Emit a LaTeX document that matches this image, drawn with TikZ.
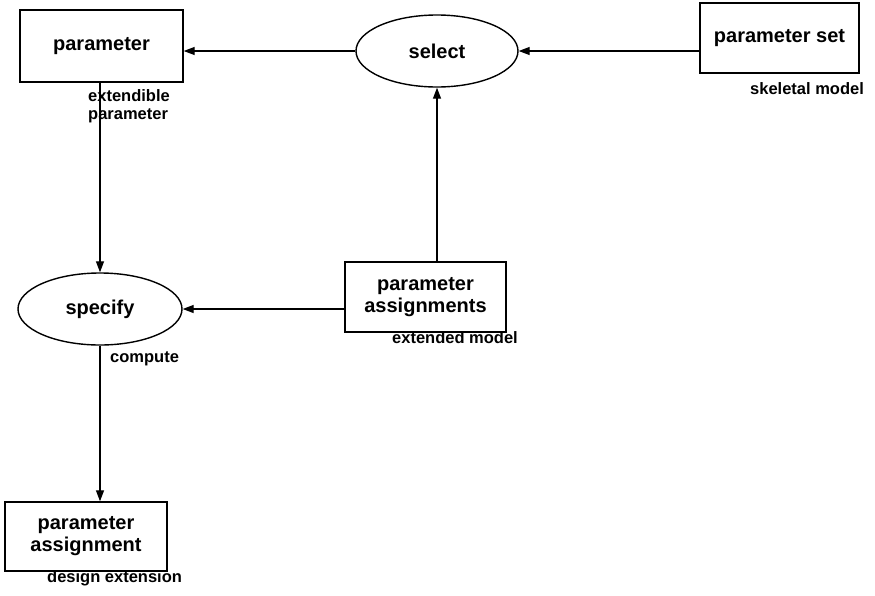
\documentclass[tikz,border=0pt]{standalone}
\usepackage{fontspec}
\setmainfont{Liberation Sans}
\usetikzlibrary{shapes.geometric,arrows.meta}
\begin{document}
\begin{tikzpicture}[x=1pt,y=-1pt,
  box/.style={draw,line width=1.4pt,rectangle,inner sep=0pt,align=center,
    font=\fontsize{20}{22}\selectfont\bfseries},
  oval/.style={draw,line width=1.4pt,ellipse,inner sep=0pt,
    font=\fontsize{20}{22}\selectfont\bfseries},
  note/.style={inner sep=0pt,anchor=base west,align=left,
    font=\fontsize{16.5}{18}\selectfont\bfseries},
  arr/.style={line width=1.3pt,-{Triangle[length=11pt,width=8pt]}}]
\useasboundingbox (0,0) rectangle (875,595);

% nodes
\node[box,minimum width=163pt,minimum height=72pt] (par) at (101.5,46) {parameter};
\node[oval,minimum width=162pt,minimum height=72pt] (sel) at (437,51) {select};
\node[box,minimum width=159pt,minimum height=70pt] (pset) at (779.5,38) {parameter set};
\node[box,minimum width=161pt,minimum height=70pt] (pa) at (425.5,297) {parameter\\assignments};
\node[oval,minimum width=164pt,minimum height=72pt] (spec) at (100,309) {specify};
\node[box,minimum width=162pt,minimum height=69pt] (pas) at (86,536.5) {parameter\\assignment};

% annotations (base anchor of a two-line note sits on its last line)
\node[note] (n1) at (88,119) {extendible\\parameter};
\node[note] (n2) at (750,94) {skeletal model};
\node[note] (n3) at (392,343) {extended model};
\node[note] (n4) at (110,362) {compute};
\node[note] (n5) at (47,582) {design extension};

% connectors
\draw[arr] (sel.west) -- (par.east |- sel.west);
\draw[arr] (pset.west |- sel.east) -- (sel.east);
\draw[arr] (pa.north -| sel.south) -- (sel.south);
\draw[arr] (pa.west |- spec.east) -- (spec.east);
\draw[arr] (par.south -| spec.north) -- (spec.north);
\draw[arr] (spec.south) -- (spec.south |- pas.north);
\end{tikzpicture}
\end{document}
